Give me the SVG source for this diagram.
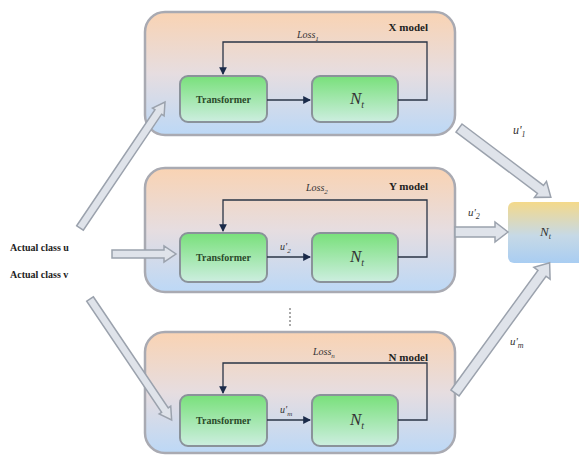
<svg xmlns="http://www.w3.org/2000/svg" width="579" height="455" viewBox="0 0 579 455">
<defs>
<linearGradient id="outerG" x1="0" y1="0" x2="0" y2="1">
<stop offset="0" stop-color="#f9d3b3"/>
<stop offset="0.5" stop-color="#e6dde0"/>
<stop offset="1" stop-color="#bcd8f6"/>
</linearGradient>
<linearGradient id="innerG" x1="0" y1="0" x2="0" y2="1">
<stop offset="0" stop-color="#78e07a"/>
<stop offset="1" stop-color="#cdeee0"/>
</linearGradient>
<linearGradient id="outG" x1="0" y1="0" x2="0" y2="1">
<stop offset="0" stop-color="#f4d98a"/>
<stop offset="0.55" stop-color="#c6d9e6"/>
<stop offset="1" stop-color="#a9cdf2"/>
</linearGradient>
<marker id="ah" viewBox="0 0 8 8" refX="7" refY="4" markerWidth="6" markerHeight="6" orient="auto">
<path d="M0,0 L8,4 L0,8 z" fill="#1a2a4a"/>
</marker>
</defs>
<style>
.outer{fill:url(#outerG);stroke:#a9aab2;stroke-width:2.5}
.inner{fill:url(#innerG);stroke:#8a929a;stroke-width:2}
.ln{fill:none;stroke:#2a3446;stroke-width:1.3}
.big{fill:#dfe3ea;stroke:#9ba2ad;stroke-width:1.5}
text{font-family:'Liberation Serif','DejaVu Serif',serif}
.lbl{font-size:10px;font-weight:bold;fill:#222}
.mdl{font-size:11px;font-weight:bold;fill:#222}
.it{font-style:italic;fill:#333}
.tr{font-size:10px;font-weight:bold;fill:#2a4a2a}
</style>

<g id="x-model">
<rect class="outer" x="145" y="12" width="310" height="123" rx="20"/>
<text class="mdl" x="428" y="31" text-anchor="end">X model</text>
<text class="it" x="297" y="38" font-size="10">Loss<tspan font-size="7" dy="3">1</tspan></text>
</g>
<g id="x-transformer">
<rect class="inner" x="180" y="76" width="87" height="46" rx="8"/>
<text class="tr" x="223.5" y="103" text-anchor="middle">Transformer</text>
</g>
<g id="x-nt">
<rect class="inner" x="312" y="76" width="86" height="46" rx="8"/>
<text class="it" x="350" y="104" font-size="17">N<tspan font-size="10" dy="4">t</tspan></text>
</g>

<g id="y-model">
<rect class="outer" x="145" y="168" width="310" height="124" rx="20"/>
<text class="mdl" x="428" y="190" text-anchor="end">Y model</text>
<text class="it" x="306" y="191" font-size="10">Loss<tspan font-size="7" dy="3">2</tspan></text>
</g>
<g id="y-transformer">
<rect class="inner" x="180" y="233" width="87" height="49" rx="8"/>
<text class="tr" x="223.5" y="261" text-anchor="middle">Transformer</text>
</g>
<g id="y-nt">
<rect class="inner" x="312" y="233" width="86" height="49" rx="8"/>
<text class="it" x="350" y="262" font-size="17">N<tspan font-size="10" dy="4">t</tspan></text>
</g>

<g id="n-model">
<rect class="outer" x="145" y="332" width="310" height="121" rx="20"/>
<text class="mdl" x="428" y="361" text-anchor="end">N model</text>
<text class="it" x="313" y="355" font-size="10">Loss<tspan font-size="7" dy="3">n</tspan></text>
</g>
<g id="n-transformer">
<rect class="inner" x="180" y="395" width="87" height="51" rx="8"/>
<text class="tr" x="223.5" y="424" text-anchor="middle">Transformer</text>
</g>
<g id="n-nt">
<rect class="inner" x="312" y="395" width="86" height="51" rx="8"/>
<text class="it" x="350" y="425" font-size="17">N<tspan font-size="10" dy="4">t</tspan></text>
</g>

<g id="output-nt">
<rect x="508" y="202" width="80" height="61" rx="6" fill="url(#outG)"/>
<text class="it" x="540" y="236" font-size="13">N<tspan font-size="8" dy="3">t</tspan></text>
</g>

<g id="inputs">
<text class="lbl" x="10" y="251">Actual class u</text>
<text class="lbl" x="10" y="278">Actual class v</text>
</g>

<g id="connectors">
<path class="ln" d="M267,100 H310" marker-end="url(#ah)"/>
<path class="ln" d="M398,100 H427 V42 H223 V74" marker-end="url(#ah)"/>
<path class="ln" d="M267,257 H310" marker-end="url(#ah)"/>
<path class="ln" d="M398,257 H427 V200 H223 V231" marker-end="url(#ah)"/>
<path class="ln" d="M267,420 H310" marker-end="url(#ah)"/>
<path class="ln" d="M398,420 H427 V363 H223 V393" marker-end="url(#ah)"/>

<g transform="translate(80,228) rotate(-56)">
<path class="big" d="M0,-4 H140 V-7 L152,0 L140,7 V4 H0 z"/>
</g>
<g transform="translate(112,254)">
<path class="big" d="M0,-4 H52 V-8 L64,0 L52,8 V4 H0 z"/>
</g>
<g transform="translate(90,299) rotate(56)">
<path class="big" d="M0,-4 H134 V-7 L146,0 L134,7 V4 H0 z"/>
</g>
<g transform="translate(455,232)">
<path class="big" d="M0,-5 H40 V-10 L53,0 L40,10 V5 H0 z"/>
</g>
<g transform="translate(459,128) rotate(37)">
<path class="big" d="M0,-5 H102 V-10 L115,0 L102,10 V5 H0 z"/>
</g>
<g transform="translate(455,393) rotate(-54)">
<path class="big" d="M0,-5 H148 V-10 L161,0 L148,10 V5 H0 z"/>
</g>

<text class="it" x="513" y="134" font-size="12">u'<tspan font-size="8" dy="3">1</tspan></text>
<text class="it" x="468" y="216" font-size="11">u'<tspan font-size="8" dy="3">2</tspan></text>
<text class="it" x="510" y="345" font-size="11">u'<tspan font-size="8" dy="3">m</tspan></text>
<text class="it" x="280" y="250" font-size="10">u'<tspan font-size="7" dy="3">2</tspan></text>
<text class="it" x="280" y="413" font-size="10">u'<tspan font-size="7" dy="3">m</tspan></text>
<path d="M290,308 V326" stroke="#555" stroke-width="1" stroke-dasharray="2,2"/>
</g>
</svg>
